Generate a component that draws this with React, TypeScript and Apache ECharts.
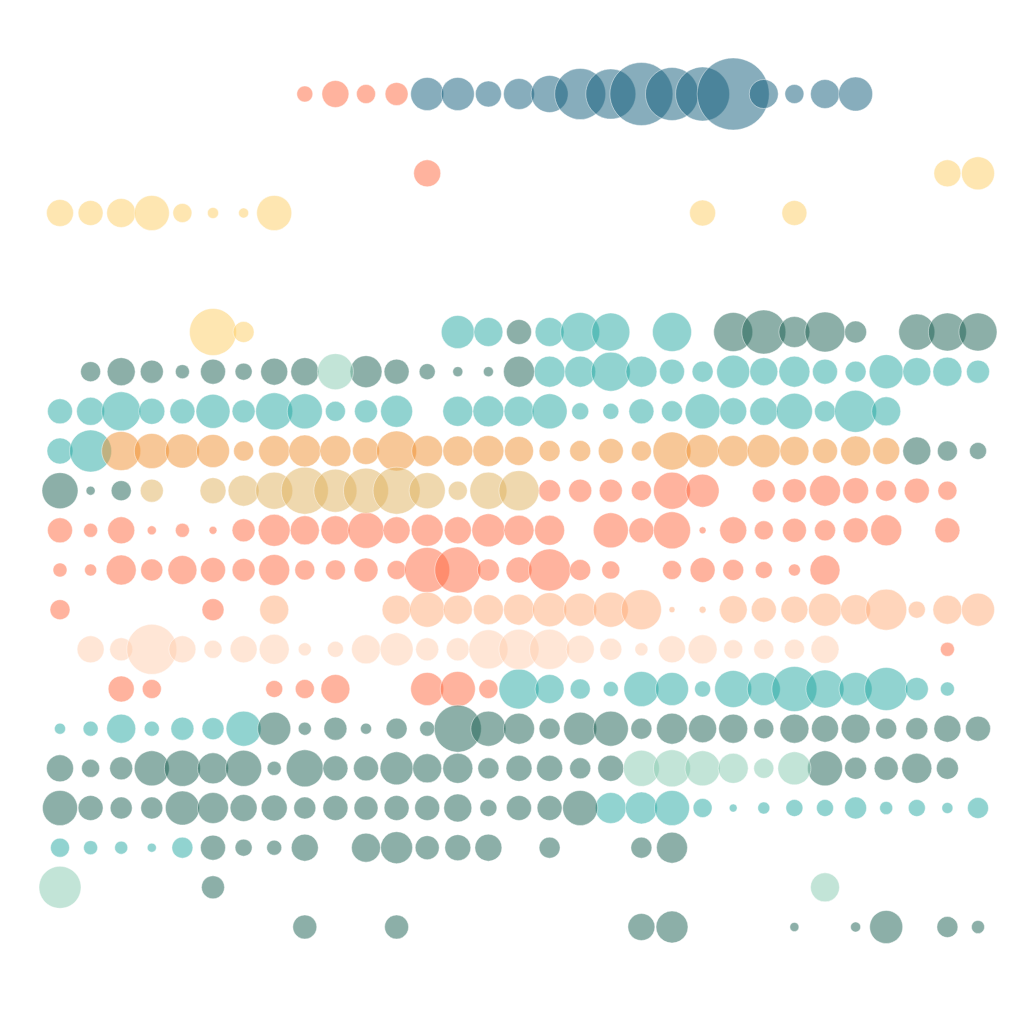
import React, { useEffect, useRef } from "react";
import * as echarts from "echarts";

// Colour keys -> base colours (drawn at 50% opacity)
const palette: Record<string, string> = {
  B: "#0f5b79", // deep blue
  S: "#ff673d", // salmon
  Y: "#fdcd63", // yellow
  T: "#23a7a1", // teal
  G: "#195f51", // grey-green
  O: "#ef8f2f", // orange
  A: "#dfb15d", // tan
  P: "#ffab77", // peach
  L: "#ffcdad", // light peach
  M: "#85c9af", // mint
};

const columnCount = 31;
const rowCount = 22;

// Each row: segments of [colourKey, startColumn, sizes...] (0 = no bubble)
type Seg = [string, number, number[]];
const row0: Seg[] = [["S", 8, [16, 27, 19, 23]], ["B", 12, [33, 33, 26, 31, 37, 51, 50, 63, 53, 54, 72, 29, 19, 29, 34]]];
const row1: Seg[] = [];
const row2: Seg[] = [["S", 12, [27]], ["Y", 29, [27, 33]]];
const row3: Seg[] = [["Y", 0, [27, 25, 29, 35, 19, 11, 10, 35]], ["Y", 21, [26]], ["Y", 24, [25]]];
const row4: Seg[] = [];
const row5: Seg[] = [];
const row6: Seg[] = [["Y", 5, [47, 21]], ["T", 13, [33, 29]], ["G", 15, [25]], ["T", 16, [29, 39, 38, 0, 39]], ["G", 22, [39, 44, 31, 40, 22, 0, 36, 38, 38]]];
const row7: Seg[] = [["G", 1, [20, 28, 23, 14, 25, 17, 27, 28]], ["M", 9, [36]], ["G", 10, [32, 25, 16, 10, 10, 31]], ["T", 16, [31, 31, 39, 31, 25, 21, 33, 28, 31, 25, 21, 34, 28, 29, 23]]];
const row8: Seg[] = [["T", 0, [25, 28, 39, 26, 25, 34, 23, 37, 35, 20, 23, 32, 0, 30, 31, 30, 35, 17, 16, 25, 21, 35, 27, 28, 36, 21, 42, 29]]];
const row9: Seg[] = [["T", 0, [26, 42]], ["O", 2, [39, 35, 34, 33, 20, 31, 32, 31, 27, 40, 31, 30, 31, 29, 21, 21, 25, 20, 38, 33, 31, 33, 29, 25, 30, 27]], ["G", 28, [28, 20, 17]]];
const row10: Seg[] = [["G", 0, [36, 9, 20]], ["A", 3, [23, 0, 26, 31, 37, 47, 43, 45, 47, 36, 19, 37, 40]], ["S", 16, [22, 23, 23, 20, 37, 33, 0, 23, 24, 31, 26, 21, 25, 19]]];
const row11: Seg[] = [["S", 0, [25, 14, 27, 9, 14, 8, 23, 32, 29, 29, 36, 27, 32, 27, 33, 30, 30, 0, 35, 25, 37, 7, 27, 19, 24, 21, 25, 31, 0, 25]]];
const row12: Seg[] = [["S", 0, [14, 12, 30, 22, 29, 25, 23, 31, 20, 20, 24, 19, 45, 46, 22, 26, 42, 21, 18, 0, 19, 25, 21, 17, 12, 30]]];
const row13: Seg[] = [["S", 0, [20]], ["S", 5, [22]], ["P", 7, [29]], ["P", 11, [29, 35, 29, 30, 31, 34, 33, 35, 40, 6, 7, 28, 25, 27, 33, 30, 41, 17, 29, 33]]];
const row14: Seg[] = [["L", 1, [27, 23, 50, 27, 18, 27, 30, 13, 16, 29, 33, 23, 23, 39, 40, 40, 28, 22, 13, 27, 29, 19, 20, 20, 28]], ["S", 29, [14]]];
const row15: Seg[] = [["S", 2, [26, 19]], ["S", 7, [17, 19, 29]], ["S", 12, [33, 35, 19]], ["T", 15, [40, 29, 20, 15, 35, 33, 16, 37, 33, 45, 38, 33, 43, 23, 14]]];
const row16: Seg[] = [["T", 0, [11, 15, 29, 15, 23, 22, 35]], ["G", 7, [33, 13, 23, 11, 21, 15, 47, 35, 31, 21, 33, 35, 21, 31, 28, 29, 20, 29, 27, 29, 21, 22, 27, 25]]];
const row17: Seg[] = [["G", 0, [27, 18, 23, 35, 36, 31, 36, 14, 37, 25, 25, 33, 29, 30, 21, 26, 26, 21, 26]], ["M", 19, [36, 37, 35, 30, 20, 33]], ["G", 25, [35, 22, 24, 30, 22]]];
const row18: Seg[] = [["G", 0, [35, 25, 22, 22, 34, 31, 27, 26, 22, 25, 24, 25, 25, 28, 17, 25, 25, 35]], ["T", 18, [31, 32, 35, 19, 8, 12, 17, 17, 22, 13, 17, 11, 21]]];
const row19: Seg[] = [["T", 0, [19, 14, 13, 9, 21]], ["G", 5, [25, 17, 15, 27, 0, 29, 32, 24, 26, 27, 0, 21, 0, 0, 21, 31]]];
const row20: Seg[] = [["M", 0, [42]], ["G", 5, [23]], ["M", 25, [29]]];
const row21: Seg[] = [["G", 8, [24]], ["G", 11, [24]], ["G", 19, [27, 32]], ["G", 24, [9, 0, 10, 33, 0, 21, 13]]];

const rows: Seg[][] = [row0, row1, row2, row3, row4, row5, row6, row7, row8, row9, row10, row11, row12, row13, row14, row15, row16, row17, row18, row19, row20, row21];

export default function App() {
  const ref = useRef<HTMLDivElement>(null);
  useEffect(() => {
    if (!ref.current) return;
    const chart = echarts.init(ref.current, undefined, { renderer: "svg" });
    const byColour: Record<string, number[][]> = {};
    rows.forEach((segs, r) => {
      segs.forEach(([key, start, sizes]) => {
        sizes.forEach((s, i) => {
          if (s > 0) {
            (byColour[key] = byColour[key] || []).push([start + i, r, s]);
          }
        });
      });
    });
    const series = Object.keys(palette)
      .filter((k) => byColour[k])
      .map((k) => ({
        type: "scatter",
        name: k,
        data: byColour[k],
        symbolSize: (v: number[]) => v[2],
        itemStyle: {
          color: palette[k],
          opacity: 0.5,
          borderColor: "rgba(255,255,255,0.9)",
          borderWidth: 1,
        },
      }));
    chart.setOption({
      animation: false,
      backgroundColor: "#ffffff",
      grid: { left: 60, right: 46, top: 94, bottom: 93 },
      xAxis: { type: "value", min: 0, max: columnCount - 1, show: false },
      yAxis: { type: "value", min: 0, max: rowCount - 1, inverse: true, show: false },
      series,
    });
    return () => chart.dispose();
  }, []);
  return (
    <div
      ref={ref}
      style={{ position: "fixed", left: 0, top: 0, width: 1024, height: 1020 }}
    />
  );
}
